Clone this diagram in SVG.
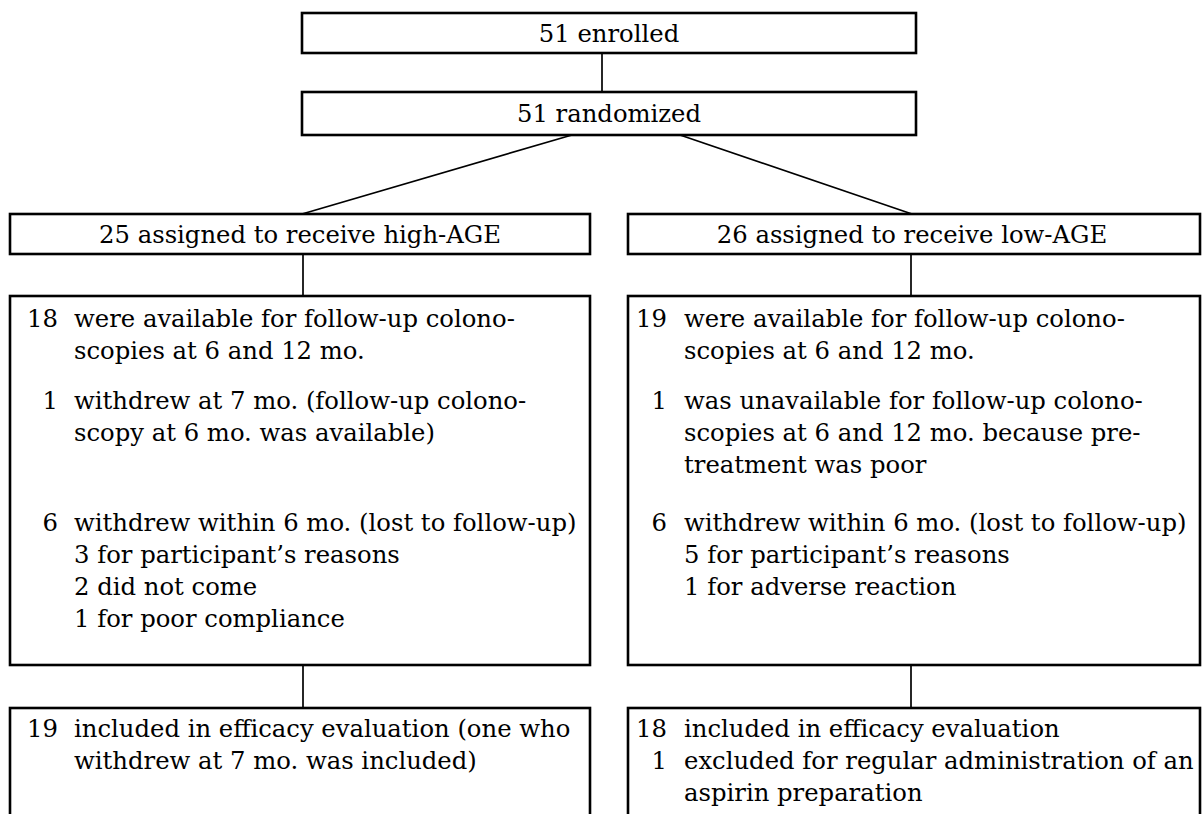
<svg xmlns="http://www.w3.org/2000/svg" width="1203" height="814" viewBox="0 0 1203 814">
<style>
  .box { fill: #fff; stroke: #000; stroke-width: 2.6; }
  .ln { stroke: #000; stroke-width: 1.7; fill: none; }
  text { font-family: "DejaVu Serif", "Liberation Serif", serif; font-size: 24.3px; fill: #000; }
  .c { text-anchor: middle; }
  .n { text-anchor: end; }
</style>
<rect width="1203" height="814" fill="#fff"/>
<g id="connectors">
  <line class="ln" x1="602" y1="53" x2="602" y2="92"/>
  <line class="ln" x1="572" y1="135" x2="302" y2="214"/>
  <line class="ln" x1="680" y1="135" x2="912" y2="214"/>
  <line class="ln" x1="303" y1="254" x2="303" y2="296"/>
  <line class="ln" x1="911" y1="254" x2="911" y2="296"/>
  <line class="ln" x1="303" y1="665" x2="303" y2="708"/>
  <line class="ln" x1="911" y1="665" x2="911" y2="708"/>
</g>
<g id="enrolled">
  <rect class="box" x="302" y="13" width="614" height="40"/>
  <text class="c" x="609" y="42">51 enrolled</text>
</g>
<g id="randomized">
  <rect class="box" x="302" y="92" width="614" height="43"/>
  <text class="c" x="609" y="122">51 randomized</text>
</g>
<g id="high">
  <rect class="box" x="10" y="214" width="580" height="40"/>
  <text class="c" x="300" y="243">25 assigned to receive high-AGE</text>
</g>
<g id="low">
  <rect class="box" x="628" y="214" width="572" height="40"/>
  <text class="c" x="912" y="243">26 assigned to receive low-AGE</text>
</g>
<g id="high-followup">
  <rect class="box" x="10" y="296" width="580" height="369"/>
  <text class="n" x="58" y="327">18</text>
  <text x="74" y="327">were available for follow-up colono-</text>
  <text x="74" y="359">scopies at 6 and 12 mo.</text>
  <text class="n" x="58" y="409">1</text>
  <text x="74" y="409">withdrew at 7 mo. (follow-up colono-</text>
  <text x="74" y="441">scopy at 6 mo. was available)</text>
  <text class="n" x="58" y="531">6</text>
  <text x="74" y="531">withdrew within 6 mo. (lost to follow-up)</text>
  <text x="74" y="563">3 for participant’s reasons</text>
  <text x="74" y="595">2 did not come</text>
  <text x="74" y="627">1 for poor compliance</text>
</g>
<g id="low-followup">
  <rect class="box" x="628" y="296" width="572" height="369"/>
  <text class="n" x="667" y="327">19</text>
  <text x="684" y="327">were available for follow-up colono-</text>
  <text x="684" y="359">scopies at 6 and 12 mo.</text>
  <text class="n" x="667" y="409">1</text>
  <text x="684" y="409">was unavailable for follow-up colono-</text>
  <text x="684" y="441">scopies at 6 and 12 mo. because pre-</text>
  <text x="684" y="473">treatment was poor</text>
  <text class="n" x="667" y="531">6</text>
  <text x="684" y="531">withdrew within 6 mo. (lost to follow-up)</text>
  <text x="684" y="563">5 for participant’s reasons</text>
  <text x="684" y="595">1 for adverse reaction</text>
</g>
<g id="high-efficacy">
  <rect class="box" x="10" y="708" width="580" height="130"/>
  <text class="n" x="58" y="737">19</text>
  <text x="74" y="737">included in efficacy evaluation (one who</text>
  <text x="74" y="769">withdrew at 7 mo. was included)</text>
</g>
<g id="low-efficacy">
  <rect class="box" x="628" y="708" width="572" height="130"/>
  <text class="n" x="667" y="737">18</text>
  <text x="684" y="737">included in efficacy evaluation</text>
  <text class="n" x="667" y="769">1</text>
  <text x="684" y="769">excluded for regular administration of an</text>
  <text x="684" y="801">aspirin preparation</text>
</g>
</svg>
